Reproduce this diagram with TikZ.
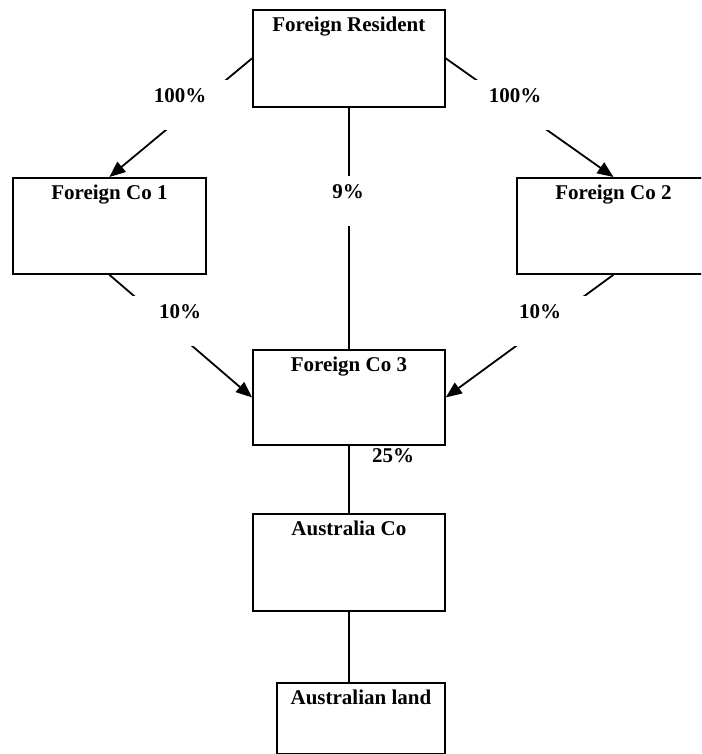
\documentclass[tikz,border=0pt]{standalone}
\usepackage{fontspec}
\setmainfont{Liberation Serif}
\usetikzlibrary{arrows.meta}

\tikzset{
  orgbox/.style 2 args={draw, line width=1.8pt, inner sep=0pt, anchor=north west,
    minimum width=#1, text height=22pt, text depth=#2},
  link/.style={line width=1.8pt},
  owns/.style={link, -{Triangle[length=16pt, width=13pt]}},
  pct/.style={fill=white, inner sep=0pt, anchor=north, minimum width=#1,
    text height=22pt, text depth=28pt},
}

\begin{document}
\begin{tikzpicture}[x=1pt, y=-1pt, font=\fontsize{21}{25}\selectfont\bfseries]
  \fill[white] (0,0) rectangle (701,754);
  \useasboundingbox (0,0) rectangle (701,754);
  \clip (0,0) rectangle (701,754);

  % entities
  \node[orgbox={192pt}{75pt}] (fr)  at (252,9)   {Foreign Resident};
  \node[orgbox={193pt}{74pt}] (fc1) at (12,177)  {Foreign Co 1};
  \node[orgbox={193pt}{74pt}] (fc2) at (516,177) {Foreign Co 2};
  \node[orgbox={192pt}{73pt}] (fc3) at (252,349) {Foreign Co 3};
  \node[orgbox={192pt}{75pt}] (ac)  at (252,513) {Australia Co};
  \node[orgbox={168pt}{49pt}] (al)  at (276,682) {Australian land};

  % ownership links
  \draw[owns] (fr.west) -- (fc1.north);
  \draw[owns] (fr.east) -- (fc2.north);
  \draw[link] (fr.south) -- (fc3.north);
  \draw[owns] (fc1.south) -- (fc3.west);
  \draw[owns] (fc2.south) -- (fc3.east);
  \draw[link] (fc3.south) -- (ac.north);
  \coordinate (alin) at (ac.south |- al.north);
  \draw[link] (ac.south) -- (alin);

  % percentage labels
  \node[pct=100pt] (p1) at (180,80)  {100\%};
  \node[pct=100pt] (p2) at (515,80)  {100\%};
  \node[pct=60pt]  (p3) at (348,176) {9\%};
  \node[pct=100pt] (p4) at (180,296) {10\%};
  \node[pct=100pt] (p5) at (540,296) {10\%};
  \node[anchor=base, inner sep=0pt] (p6) at (393,462) {25\%};
\end{tikzpicture}
\end{document}
